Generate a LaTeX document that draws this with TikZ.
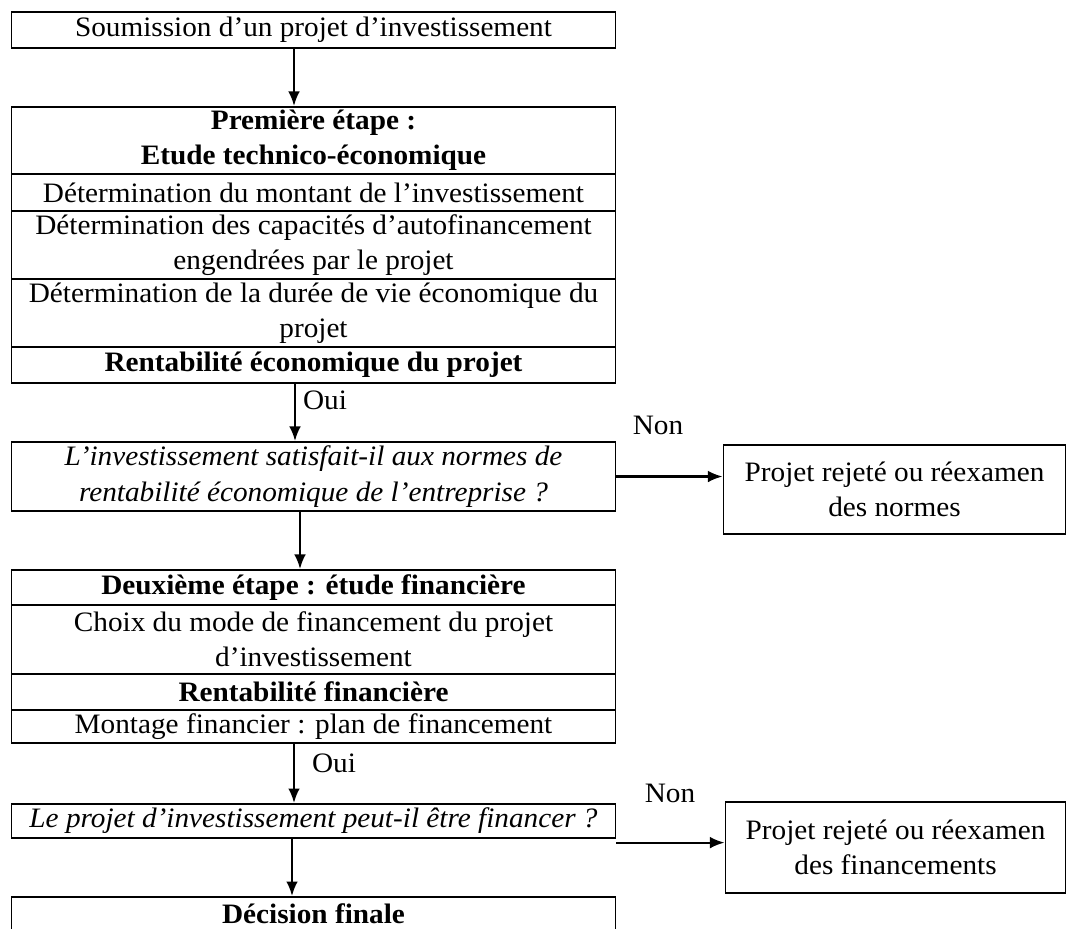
\documentclass[tikz,border=0pt]{standalone}
\usepackage{fontspec}
\setmainfont{Liberation Serif}[FakeStretch=1.04]
\usetikzlibrary{arrows.meta}

\begin{document}
\begin{tikzpicture}[x=0.0145cm, y=-0.0145cm,
    box/.style={draw, line width=0.8pt, inner sep=0pt, align=center,
        font=\fontsize{11.6pt}{14.5pt}\selectfont},
    zeile/.style={box, minimum width=604*0.0145cm},
    pfeil/.style={line width=0.9pt, -{Latex[length=6pt, width=4.8pt]}},
    beschr/.style={inner sep=0pt, font=\fontsize{11.6pt}{14.5pt}\selectfont}]
            % Pixelgröße
            \def\s{0.0145cm}

            % Rahmen
            \useasboundingbox (0,0) rectangle (1067,928);

            % Linke Spalte, erste Etappe
            \node[zeile, minimum height=36*\s] (soumission) at (313.5,30) {Soumission d’un projet d’investissement};
            \node[zeile, minimum height=67*\s] (etape1) at (313.5,140.5) {\textbf{Première étape :}\\ \textbf{Etude technico-économique}};
            \node[zeile, minimum height=37*\s] (montant) at (313.5,192.5) {Détermination du montant de l’investissement};
            \node[zeile, minimum height=68*\s] (capacites) at (313.5,245) {Détermination des capacités d’autofinancement\\ engendrées par le projet};
            \node[zeile, minimum height=68*\s] (duree) at (313.5,313) {Détermination de la durée de vie économique du\\ projet};
            \node[zeile, minimum height=36*\s] (rentabeco) at (313.5,365) {\textbf{Rentabilité économique du projet}};
            \node[zeile, minimum height=69*\s] (question1) at (313.5,476.5) {\itshape L’investissement satisfait-il aux normes de\\ \itshape rentabilité économique de l’entreprise ?};

            % Zweite Etappe
            \node[zeile, minimum height=35*\s] (etape2) at (313.5,587.5) {\textbf{Deuxième étape : étude financière}};
            \node[zeile, minimum height=69*\s] (choix) at (313.5,639.5) {Choix du mode de financement du projet\\ d’investissement};
            \node[zeile, minimum height=36*\s] (rentabfin) at (313.5,692) {\textbf{Rentabilité financière}};
            \node[zeile, minimum height=33*\s] (montage) at (313.5,726.5) {Montage financier : plan de financement};
            \node[zeile, minimum height=34*\s] (question2) at (313.5,821) {\itshape Le projet d’investissement peut-il être financer ?};
            \node[zeile, minimum height=34*\s] (decision) at (313.5,914) {\textbf{Décision finale}};

            % Rechte Spalte
            \node[box, minimum width=342*\s, minimum height=89*\s] (rejet1) at (894.5,489.5) {Projet rejeté ou réexamen\\ des normes};
            \node[box, minimum width=340*\s, minimum height=91*\s] (rejet2) at (895.5,847.5) {Projet rejeté ou réexamen\\ des financements};

            % Beschriftungen
            \node[beschr] (oui1) at (325,400) {Oui};
            \node[beschr] (oui2) at (334,763) {Oui};
            \node[beschr] (non1) at (658,425) {Non};
            \node[beschr] (non2) at (670,793) {Non};

            % Pfeile
            \coordinate (p1) at (294,0);
            \coordinate (p2) at (295,0);
            \coordinate (p3) at (300,0);
            \coordinate (p4) at (294,0);
            \coordinate (p5) at (292,0);
            \draw[pfeil] (soumission.south -| p1) -- (etape1.north -| p1);
            \draw[pfeil] (rentabeco.south -| p2) -- (question1.north -| p2);
            \draw[pfeil] (question1.south -| p3) -- (etape2.north -| p3);
            \draw[pfeil] (montage.south -| p4) -- (question2.north -| p4);
            \draw[pfeil] (question2.south -| p5) -- (decision.north -| p5);
            \draw[pfeil] (question1.east) -- (question1.east -| rejet1.west);
            \draw[pfeil] ([yshift=-1.5pt]question2.south east) -- ([yshift=-1.5pt]question2.south east -| rejet2.west);
        \end{tikzpicture}
\end{document}
